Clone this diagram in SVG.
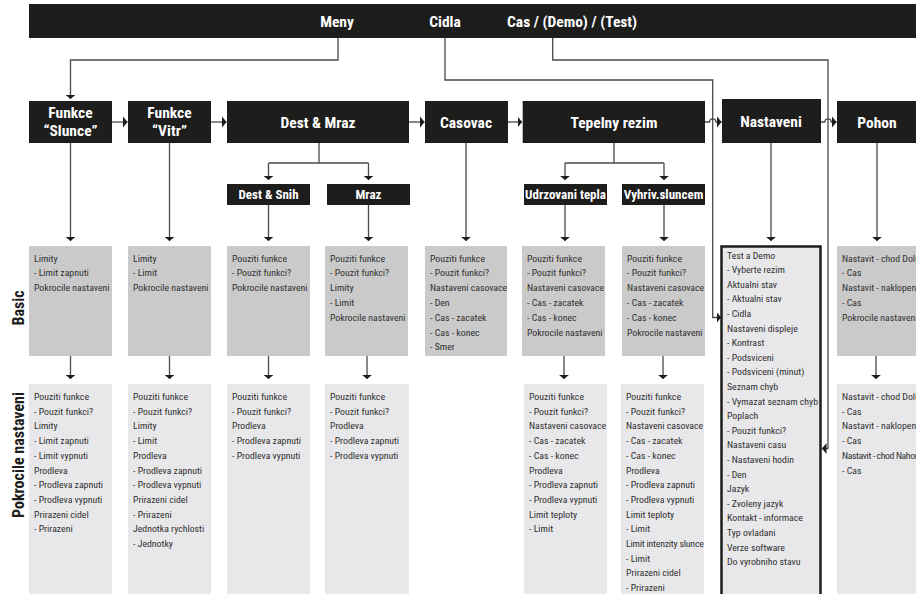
<svg xmlns="http://www.w3.org/2000/svg" width="916" height="594" viewBox="0 0 916 594">
<defs>
<style>
.f{font-family:"Liberation Sans Narrow","Roboto Condensed","DejaVu Sans Condensed","Liberation Sans",sans-serif;}
.blk{fill:#1d1d1b;}
.hdr{font-weight:bold;font-size:15.5px;fill:#fff;text-anchor:middle;}
.sub{font-weight:bold;font-size:13px;fill:#fff;text-anchor:middle;}
.top{font-weight:bold;font-size:15.5px;fill:#fff;}
.basic{fill:#cacaca;}
.adv{fill:#e8e8ea;}
.it{font-size:9.8px;fill:#303030;}
.side{font-weight:bold;font-size:16px;fill:#1d1d1b;text-anchor:middle;}
.ln{stroke:#4a4a4a;stroke-width:1.3;fill:none;}
.ar{stroke:#4a4a4a;stroke-width:1.3;fill:none;marker-end:url(#ah);}
</style>
<marker id="ah" markerUnits="userSpaceOnUse" markerWidth="6" markerHeight="12" refX="4.5" refY="6" orient="auto" viewBox="0 0 6 12">
<path d="M0,0.5 L4.5,6 L0,11.5 Z" fill="#1d1d1b"/>
</marker>
</defs>
<rect width="916" height="594" fill="#fff"/>

<g id="menubar">
<rect class="blk" x="29" y="4" width="887" height="34"/>
<text class="f top" x="337" y="27" text-anchor="middle">Meny</text>
<text class="f top" x="445" y="27" text-anchor="middle">Cidla</text>
<text class="f top" x="507" y="27">Cas / (Demo) / (Test)</text>
</g>

<g id="connectors">
<path class="ar" d="M338,38 V60 H70.5 V99"/>
<path class="ar" d="M445,38 V80 H712.7 V317.5 H721"/>
<path class="ar" d="M552.7,38 V60 H828 V448.5 H822"/>
<path class="ar" d="M112,122 H127.5"/>
<path class="ar" d="M211,122 H226.5"/>
<path class="ar" d="M409,122 H424.5"/>
<path class="ar" d="M508,122 H522"/>
<path class="ar" d="M705,122 H709.5 A3.2,3.2 0 0 1 715.9,122 H721.5"/>
<path class="ar" d="M821,122 H824.8 A3.2,3.2 0 0 1 831.2,122 H836.5"/>
<path class="ln" d="M319,143 V163 M268.5,163 H368.5"/>
<path class="ar" d="M268.5,163 V180"/>
<path class="ar" d="M368.5,163 V180"/>
<path class="ln" d="M614,143 V163 M565,163 H664"/>
<path class="ar" d="M565,163 V180"/>
<path class="ar" d="M664,163 V180"/>
<path class="ar" d="M70.5,143 V241"/>
<path class="ar" d="M169.5,143 V241"/>
<path class="ar" d="M268.5,205 V241"/>
<path class="ar" d="M368.5,205 V241"/>
<path class="ar" d="M466,143 V241"/>
<path class="ar" d="M565,205 V241"/>
<path class="ar" d="M664,205 V241"/>
<path class="ar" d="M771,143 V241"/>
<path class="ar" d="M877,143 V241"/>
<path class="ar" d="M70.5,356 V379"/>
<path class="ar" d="M169.5,356 V379"/>
<path class="ar" d="M268.5,356 V379"/>
<path class="ar" d="M367,356 V379"/>
<path class="ar" d="M564,356 V379"/>
<path class="ar" d="M663,356 V379"/>
<path class="ar" d="M876,356 V379"/>
</g>

<g id="funkce-slunce"><rect class="blk" x="29" y="101" width="83" height="42"/>
<text class="f hdr" x="70.5" y="118">Funkce</text><text class="f hdr" x="70.5" y="136">“Slunce”</text></g>
<g id="funkce-vitr"><rect class="blk" x="128" y="101" width="83" height="42"/>
<text class="f hdr" x="169.5" y="118">Funkce</text><text class="f hdr" x="169.5" y="136">“Vitr”</text></g>
<g id="dest-mraz"><rect class="blk" x="227" y="101" width="182" height="42"/>
<text class="f hdr" x="318" y="127.5">Dest &amp; Mraz</text></g>
<g id="casovac"><rect class="blk" x="425" y="101" width="83" height="42"/>
<text class="f hdr" x="466" y="127.5">Casovac</text></g>
<g id="tepelny-rezim"><rect class="blk" x="522.7" y="101" width="182.3" height="42"/>
<text class="f hdr" x="614" y="127.5">Tepelny rezim</text></g>
<g id="nastaveni"><rect class="blk" x="722" y="99" width="99" height="44"/>
<text class="f hdr" x="771" y="126.5">Nastaveni</text></g>
<g id="pohon"><rect class="blk" x="837" y="101" width="82" height="42"/>
<text class="f hdr" x="877" y="127.5">Pohon</text></g>

<g id="dest-snih"><rect class="blk" x="227" y="184" width="83" height="21"/>
<text class="f sub" x="268.5" y="198.5">Dest &amp; Snih</text></g>
<g id="mraz"><rect class="blk" x="327" y="184" width="83" height="21"/>
<text class="f sub" x="368.5" y="198.5">Mraz</text></g>
<g id="udrzovani-tepla"><rect class="blk" x="524" y="184" width="83" height="21"/>
<text class="f sub" x="565.5" y="198.5">Udrzovani tepla</text></g>
<g id="vyhriv-sluncem"><rect class="blk" x="622" y="184" width="83" height="21"/>
<text class="f sub" x="663.5" y="198.5">Vyhriv.sluncem</text></g>

<g id="label-basic"><text class="f side" transform="translate(23.5,308) rotate(-90)">Basic</text></g>
<g id="label-pokrocile"><text class="f side" transform="translate(24,455) rotate(-90)">Pokrocile nastaveni</text></g>

<g id="basic-slunce"><rect class="basic" x="29" y="246" width="83" height="110"/>
<text class="f it" x="34" y="261.5"><tspan x="34">Limity</tspan><tspan x="34" dy="14.8">- Limit zapnuti</tspan><tspan x="34" dy="14.8">Pokrocile nastaveni</tspan></text></g>
<g id="basic-vitr"><rect class="basic" x="128" y="246" width="83" height="110"/>
<text class="f it" x="133" y="261.5"><tspan x="133">Limity</tspan><tspan x="133" dy="14.8">- Limit</tspan><tspan x="133" dy="14.8">Pokrocile nastaveni</tspan></text></g>
<g id="basic-dest"><rect class="basic" x="227" y="246" width="83" height="110"/>
<text class="f it" x="232" y="261.5"><tspan x="232">Pouziti funkce</tspan><tspan x="232" dy="14.8">- Pouzit funkci?</tspan><tspan x="232" dy="14.8">Pokrocile nastaveni</tspan></text></g>
<g id="basic-mraz"><rect class="basic" x="325" y="246" width="83" height="110"/>
<text class="f it" x="330" y="261.5"><tspan x="330">Pouziti funkce</tspan><tspan x="330" dy="14.8">- Pouzit funkci?</tspan><tspan x="330" dy="14.8">Limity</tspan><tspan x="330" dy="14.8">- Limit</tspan><tspan x="330" dy="14.8">Pokrocile nastaveni</tspan></text></g>
<g id="basic-casovac"><rect class="basic" x="425" y="246" width="82" height="110"/>
<text class="f it" x="430" y="261.5"><tspan x="430">Pouziti funkce</tspan><tspan x="430" dy="14.8">- Pouzit funkci?</tspan><tspan x="430" dy="14.8">Nastaveni casovace</tspan><tspan x="430" dy="14.8">- Den</tspan><tspan x="430" dy="14.8">- Cas - zacatek</tspan><tspan x="430" dy="14.8">- Cas - konec</tspan><tspan x="430" dy="14.8">- Smer</tspan></text></g>
<g id="basic-udrzovani"><rect class="basic" x="522" y="246" width="83" height="110"/>
<text class="f it" x="527" y="261.5"><tspan x="527">Pouziti funkce</tspan><tspan x="527" dy="14.8">- Pouzit funkci?</tspan><tspan x="527" dy="14.8">Nastaveni casovace</tspan><tspan x="527" dy="14.8">- Cas - zacatek</tspan><tspan x="527" dy="14.8">- Cas - konec</tspan><tspan x="527" dy="14.8">Pokrocile nastaveni</tspan></text></g>
<g id="basic-vyhriv"><rect class="basic" x="622" y="246" width="83" height="110"/>
<text class="f it" x="627" y="261.5"><tspan x="627">Pouziti funkce</tspan><tspan x="627" dy="14.8">- Pouzit funkci?</tspan><tspan x="627" dy="14.8">Nastaveni casovace</tspan><tspan x="627" dy="14.8">- Cas - zacatek</tspan><tspan x="627" dy="14.8">- Cas - konec</tspan><tspan x="627" dy="14.8">Pokrocile nastaveni</tspan></text></g>
<g id="basic-pohon"><rect class="basic" x="837" y="246" width="82" height="110"/>
<text class="f it" x="842" y="261.5"><tspan x="842">Nastavit - chod Dolu</tspan><tspan x="842" dy="14.8">- Cas</tspan><tspan x="842" dy="14.8">Nastavit - naklopeni</tspan><tspan x="842" dy="14.8">- Cas</tspan><tspan x="842" dy="14.8">Pokrocile nastaveni</tspan></text></g>

<g id="nastaveni-list"><rect x="721.5" y="246.5" width="99" height="360" fill="#e8e8ea" stroke="#1d1d1b" stroke-width="2.5"/>
<text class="f it" x="727" y="258.5"><tspan x="727">Test a Demo</tspan><tspan x="727" dy="14.6">- Vyberte rezim</tspan><tspan x="727" dy="14.6">Aktualni stav</tspan><tspan x="727" dy="14.6">- Aktualni stav</tspan><tspan x="727" dy="14.6">- Cidla</tspan><tspan x="727" dy="14.6">Nastaveni displeje</tspan><tspan x="727" dy="14.6">- Kontrast</tspan><tspan x="727" dy="14.6">- Podsviceni</tspan><tspan x="727" dy="14.6">- Podsviceni (minut)</tspan><tspan x="727" dy="14.6">Seznam chyb</tspan><tspan x="727" dy="14.6">- Vymazat seznam chyb</tspan><tspan x="727" dy="14.6">Poplach</tspan><tspan x="727" dy="14.6">- Pouzit funkci?</tspan><tspan x="727" dy="14.6">Nastaveni casu</tspan><tspan x="727" dy="14.6">- Nastaveni hodin</tspan><tspan x="727" dy="14.6">- Den</tspan><tspan x="727" dy="14.6">Jazyk</tspan><tspan x="727" dy="14.6">- Zvoleny jazyk</tspan><tspan x="727" dy="14.6">Kontakt - informace</tspan><tspan x="727" dy="14.6">Typ ovladani</tspan><tspan x="727" dy="14.6">Verze software</tspan><tspan x="727" dy="14.6">Do vyrobniho stavu</tspan></text></g>

<g id="adv-slunce"><rect class="adv" x="29" y="384" width="83" height="215"/>
<text class="f it" x="34" y="400"><tspan x="34">Pouziti funkce</tspan><tspan x="34" dy="14.7">- Pouzit funkci?</tspan><tspan x="34" dy="14.7">Limity</tspan><tspan x="34" dy="14.7">- Limit zapnuti</tspan><tspan x="34" dy="14.7">- Limit vypnuti</tspan><tspan x="34" dy="14.7">Prodleva</tspan><tspan x="34" dy="14.7">- Prodleva zapnuti</tspan><tspan x="34" dy="14.7">- Prodleva vypnuti</tspan><tspan x="34" dy="14.7">Prirazeni cidel</tspan><tspan x="34" dy="14.7">- Prirazeni</tspan></text></g>
<g id="adv-vitr"><rect class="adv" x="128" y="384" width="83" height="215"/>
<text class="f it" x="133" y="400"><tspan x="133">Pouziti funkce</tspan><tspan x="133" dy="14.7">- Pouzit funkci?</tspan><tspan x="133" dy="14.7">Limity</tspan><tspan x="133" dy="14.7">- Limit</tspan><tspan x="133" dy="14.7">Prodleva</tspan><tspan x="133" dy="14.7">- Prodleva zapnuti</tspan><tspan x="133" dy="14.7">- Prodleva vypnuti</tspan><tspan x="133" dy="14.7">Prirazeni cidel</tspan><tspan x="133" dy="14.7">- Prirazeni</tspan><tspan x="133" dy="14.7">Jednotka rychlosti</tspan><tspan x="133" dy="14.7">- Jednotky</tspan></text></g>
<g id="adv-dest"><rect class="adv" x="227" y="384" width="83" height="215"/>
<text class="f it" x="232" y="400"><tspan x="232">Pouziti funkce</tspan><tspan x="232" dy="14.7">- Pouzit funkci?</tspan><tspan x="232" dy="14.7">Prodleva</tspan><tspan x="232" dy="14.7">- Prodleva zapnuti</tspan><tspan x="232" dy="14.7">- Prodleva vypnuti</tspan></text></g>
<g id="adv-mraz"><rect class="adv" x="325" y="384" width="84" height="215"/>
<text class="f it" x="330" y="400"><tspan x="330">Pouziti funkce</tspan><tspan x="330" dy="14.7">- Pouzit funkci?</tspan><tspan x="330" dy="14.7">Prodleva</tspan><tspan x="330" dy="14.7">- Prodleva zapnuti</tspan><tspan x="330" dy="14.7">- Prodleva vypnuti</tspan></text></g>
<g id="adv-udrzovani"><rect class="adv" x="524" y="384" width="83" height="215"/>
<text class="f it" x="529" y="400"><tspan x="529">Pouziti funkce</tspan><tspan x="529" dy="14.7">- Pouzit funkci?</tspan><tspan x="529" dy="14.7">Nastaveni casovace</tspan><tspan x="529" dy="14.7">- Cas - zacatek</tspan><tspan x="529" dy="14.7">- Cas - konec</tspan><tspan x="529" dy="14.7">Prodleva</tspan><tspan x="529" dy="14.7">- Prodleva zapnuti</tspan><tspan x="529" dy="14.7">- Prodleva vypnuti</tspan><tspan x="529" dy="14.7">Limit teploty</tspan><tspan x="529" dy="14.7">- Limit</tspan></text></g>
<g id="adv-vyhriv"><rect class="adv" x="621" y="384" width="83" height="215"/>
<text class="f it" x="626" y="400"><tspan x="626">Pouziti funkce</tspan><tspan x="626" dy="14.7">- Pouzit funkci?</tspan><tspan x="626" dy="14.7">Nastaveni casovace</tspan><tspan x="626" dy="14.7">- Cas - zacatek</tspan><tspan x="626" dy="14.7">- Cas - konec</tspan><tspan x="626" dy="14.7">Prodleva</tspan><tspan x="626" dy="14.7">- Prodleva zapnuti</tspan><tspan x="626" dy="14.7">- Prodleva vypnuti</tspan><tspan x="626" dy="14.7">Limit teploty</tspan><tspan x="626" dy="14.7">- Limit</tspan><tspan x="626" dy="14.7" letter-spacing="-0.2">Limit intenzity slunce</tspan><tspan x="626" dy="14.7">- Limit</tspan><tspan x="626" dy="14.7">Prirazeni cidel</tspan><tspan x="626" dy="14.7">- Prirazeni</tspan></text></g>
<g id="adv-pohon"><rect class="adv" x="837" y="384" width="82" height="215"/>
<text class="f it" x="842" y="400"><tspan x="842">Nastavit - chod Dolu</tspan><tspan x="842" dy="14.7">- Cas</tspan><tspan x="842" dy="14.7">Nastavit - naklopeni</tspan><tspan x="842" dy="14.7">- Cas</tspan><tspan x="842" dy="14.7" letter-spacing="-0.4">Nastavit - chod Nahoru</tspan><tspan x="842" dy="14.7">- Cas</tspan></text></g>
</svg>
